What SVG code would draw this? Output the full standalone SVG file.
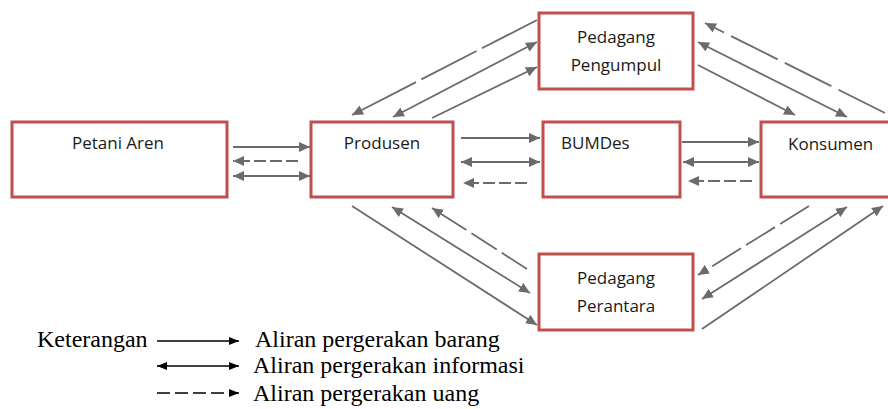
<svg xmlns="http://www.w3.org/2000/svg" width="888" height="409" viewBox="0 0 888 409">
  <style>
    .box { fill: #ffffff; stroke: #c0504d; stroke-width: 3; }
    .lbl { font-family: "Open Sans", "Liberation Sans", sans-serif; font-size: 17px; fill: #1a1a1a; }
    .ln { fill: none; stroke: #6b6b6b; stroke-width: 1.8; }
    .one { marker-end: url(#ah); }
    .two { marker-start: url(#ah); marker-end: url(#ah); }
    .lg { fill: none; stroke: #000000; stroke-width: 1.6; }
    .lgone { marker-end: url(#lah); }
    .lgtwo { marker-start: url(#lah); marker-end: url(#lah); }
    .key { font-family: "Liberation Serif", "Times New Roman", serif; font-size: 24px; fill: #000000; }
  </style>
  <defs>
    <marker id="ah" viewBox="0 0 11 10" refX="11" refY="5" markerWidth="11" markerHeight="10" markerUnits="userSpaceOnUse" orient="auto-start-reverse">
      <path d="M0,0 L11,5 L0,10 Z" fill="#6b6b6b"/>
    </marker>
    <marker id="lah" viewBox="0 0 10 8" refX="10" refY="4" markerWidth="10" markerHeight="8" markerUnits="userSpaceOnUse" orient="auto-start-reverse">
      <path d="M0,0 L10,4 L0,8 Z" fill="#000000"/>
    </marker>
  </defs>

  <!-- nodes -->
  <g id="petani-aren">
    <rect class="box" x="12" y="122" width="215" height="75"/>
    <text class="lbl" x="118" y="149" text-anchor="middle">Petani Aren</text>
  </g>
  <g id="produsen">
    <rect class="box" x="311" y="122" width="142" height="75"/>
    <text class="lbl" x="382" y="149" text-anchor="middle">Produsen</text>
  </g>
  <g id="bumdes">
    <rect class="box" x="543" y="122" width="137" height="75"/>
    <text class="lbl" x="561" y="149">BUMDes</text>
  </g>
  <g id="konsumen">
    <rect class="box" x="761" y="122" width="140" height="75"/>
    <text class="lbl" x="788" y="150">Konsumen</text>
  </g>
  <g id="pedagang-pengumpul">
    <rect class="box" x="539" y="13" width="154" height="76"/>
    <text class="lbl" x="616" y="43" text-anchor="middle">Pedagang</text>
    <text class="lbl" x="616" y="71" text-anchor="middle">Pengumpul</text>
  </g>
  <g id="pedagang-perantara">
    <rect class="box" x="539" y="254" width="154" height="76"/>
    <text class="lbl" x="616" y="284" text-anchor="middle">Pedagang</text>
    <text class="lbl" x="616" y="312" text-anchor="middle">Perantara</text>
  </g>

  <!-- connectors -->
  <g id="connectors">
    <!-- Petani Aren / Produsen -->
    <path class="ln one" d="M233,147 L310,147"/>
    <path class="ln one" d="M298,161 L233,161" stroke-dasharray="12 4"/>
    <path class="ln two" d="M233,176 L310,176"/>
    <!-- Produsen / BUMDes -->
    <path class="ln one" d="M461,138 L540,138"/>
    <path class="ln two" d="M461,162 L540,162"/>
    <path class="ln one" d="M527,183 L463,183" stroke-dasharray="12 4"/>
    <!-- BUMDes / Konsumen -->
    <path class="ln one" d="M682,142 L759,142"/>
    <path class="ln two" d="M683,162 L759,162"/>
    <path class="ln one" d="M752,181 L688,181" stroke-dasharray="12 4"/>
    <!-- Produsen / Pedagang Pengumpul -->
    <path class="ln one" d="M537,20 L352,115" stroke-dasharray="62 6"/>
    <path class="ln two" d="M537,42 L393,117"/>
    <path class="ln one" d="M432,118 L537,67"/>
    <!-- Pedagang Pengumpul / Konsumen -->
    <path class="ln one" d="M885,113 L705,23" stroke-dasharray="52 8"/>
    <path class="ln two" d="M698,42 L847,117"/>
    <path class="ln one" d="M698,65 L795,115"/>
    <!-- Produsen / Pedagang Perantara -->
    <path class="ln one" d="M352,206 L537,325"/>
    <path class="ln two" d="M392,207 L530,293"/>
    <path class="ln one" d="M527,269 L432,208" stroke-dasharray="30 6"/>
    <!-- Pedagang Perantara / Konsumen -->
    <path class="ln one" d="M809,206 L698,275" stroke-dasharray="34 6"/>
    <path class="ln two" d="M847,207 L702,299"/>
    <path class="ln one" d="M702,329 L883,206"/>
  </g>

  <!-- legend -->
  <g id="legend">
    <text class="key" x="37" y="347">Keterangan</text>
    <path class="lg lgone" d="M157,341 L239,341"/>
    <text class="key" x="255" y="347">Aliran pergerakan barang</text>
    <path class="lg lgtwo" d="M157,366 L239,366"/>
    <text class="key" x="253" y="373">Aliran pergerakan informasi</text>
    <path class="lg lgone" d="M157,393 L239,393" stroke-dasharray="13 5"/>
    <text class="key" x="253" y="401">Aliran pergerakan uang</text>
  </g>
</svg>
